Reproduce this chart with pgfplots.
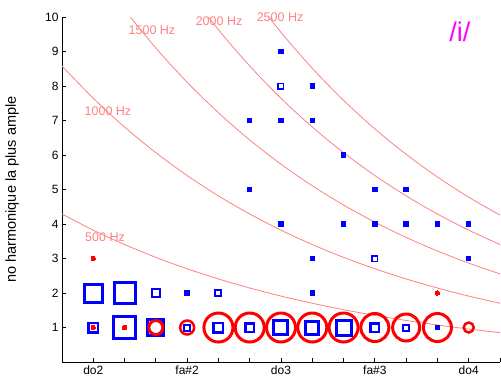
\documentclass[border=0pt]{standalone}
\usepackage{pgfplots}
\pgfplotsset{compat=1.18}
\usepackage{fontspec}
\setmainfont{Liberation Sans}
\definecolor{hz}{RGB}{255,128,128}
\definecolor{mag}{RGB}{255,0,255}
% one marker drawn by pgfplots at (x,y) with half-size and line width
\newcommand{\bsq}[4]{\addplot[only marks, mark=square, blue, mark size=#3pt, mark options={line width=#4pt, draw=blue, fill=none}] coordinates {(#1,#2)};}
\newcommand{\rci}[4]{\addplot[only marks, mark=o, red, mark size=#3pt, mark options={line width=#4pt, draw=red, fill=none}] coordinates {(#1,#2)};}

\begin{document}
\begin{tikzpicture}
\begin{axis}[
  scale only axis, width=438pt, height=345pt,
  xmin=-2, xmax=26, ymin=0, ymax=10,
  axis x line*=bottom, axis y line*=left,
  axis line style={black, line width=0.8pt},
  tick align=inside, major tick length=4.5pt,
  tick style={black, line width=0.8pt},
  xtick={0,2,...,26},
  xticklabels={do2,,,fa\#2,,,do3,,,fa\#3,,,do4,},
  ytick={1,...,10},
  tick label style={font=\fontsize{12}{14}\selectfont},
  /pgf/number format/assume math mode=true,
  ylabel={no harmonique la plus ample},
  every axis y label/.style={at={(axis description cs:-0.114,0.5)}, rotate=90, anchor=center, font=\fontsize{14.5}{16}\selectfont},
  clip mode=individual,
]
% harmonic iso-frequency curves
\addplot[hz, line width=0.8pt, smooth, no marks] coordinates {(-2,4.290) (0,3.822) (2,3.405) (4,3.034) (6,2.703) (8,2.408) (10,2.145) (12,1.911) (14,1.703) (16,1.517) (18,1.351) (20,1.204) (22,1.073) (24,0.956) (26,0.851)};
\addplot[hz, line width=0.8pt, smooth, no marks] coordinates {(-2,8.580) (0,7.645) (2,6.810) (4,6.068) (6,5.405) (8,4.816) (10,4.290) (12,3.822) (14,3.405) (16,3.034) (18,2.703) (20,2.408) (22,2.145) (24,1.911) (26,1.703)};
\addplot[hz, line width=0.8pt, smooth, no marks] coordinates {(-2,12.871) (0,11.467) (2,10.216) (4,9.101) (6,8.108) (8,7.224) (10,6.436) (12,5.734) (14,5.108) (16,4.551) (18,4.054) (20,3.612) (22,3.218) (24,2.867) (26,2.554)};
\addplot[hz, line width=0.8pt, smooth, no marks] coordinates {(-2,17.161) (0,15.289) (2,13.621) (4,12.135) (6,10.811) (8,9.632) (10,8.581) (12,7.645) (14,6.811) (16,6.068) (18,5.406) (20,4.816) (22,4.290) (24,3.822) (26,3.405)};
\addplot[hz, line width=0.8pt, smooth, no marks] coordinates {(2,17.027) (4,15.169) (6,13.514) (8,12.039) (10,10.726) (12,9.556) (14,8.513) (16,7.585) (18,6.757) (20,6.020) (22,5.363) (24,4.778) (26,4.257)};

% blue hollow squares (x, y, half side, line width)
\bsq{0}{2}{9}{3}
\bsq{2}{2}{10.5}{3}
\bsq{4}{2}{4}{2}
\bsq{0}{1}{4.75}{2.5}
\bsq{2}{1}{11}{3}
\bsq{4}{1}{8}{3}
\bsq{8}{2}{3}{2}
\bsq{6}{1}{3}{2}
\bsq{8}{1}{4.75}{2.5}
\bsq{10}{1}{4.25}{2.5}
\bsq{12}{1}{7}{3}
\bsq{14}{1}{6.5}{3}
\bsq{16}{1}{7.5}{3}
\bsq{18}{1}{4.25}{2.5}
\bsq{20}{1}{3}{2}
\bsq{12}{8}{2.75}{1.5}
\bsq{18}{3}{2.75}{1.5}
% blue small filled squares
\addplot[only marks, mark=square*, mark size=2.2pt, blue, mark options={line width=0pt, draw=blue, fill=blue}] coordinates {
(12,9) (10,7) (12,7) (14,7) (14,8) (10,5) (12,4) (14,3) (14,2)
(16,6) (18,5) (20,5) (16,4) (18,4) (20,4) (22,4) (24,4) (24,3) (22,1)};
\addplot[only marks, mark=square*, mark size=2.8pt, blue, mark options={line width=0pt, draw=blue, fill=blue}] coordinates {(6,2)};
% red circles (x, y, radius, line width)
\rci{4}{1}{7}{3}
\rci{6}{1}{7}{2.5}
\rci{8}{1}{14.5}{3}
\rci{10}{1}{14.5}{3}
\rci{12}{1}{14.5}{3}
\rci{14}{1}{14.5}{3}
\rci{16}{1}{14.5}{3}
\rci{18}{1}{14}{3}
\rci{20}{1}{13.5}{3}
\rci{22}{1}{14}{3}
\rci{24}{1}{5}{2.5}
% red dots
\addplot[only marks, mark=*, mark size=2.2pt, red, mark options={draw=red, fill=red, line width=0pt}] coordinates {(0,3) (0,1) (2,1) (22,2)};

% labels
\node[hz, font=\fontsize{12.5}{14}\selectfont] at (axis cs:0.75,3.62) {500 Hz};
\node[hz, font=\fontsize{12.5}{14}\selectfont] at (axis cs:0.94,7.28) {1000 Hz};
\node[hz, font=\fontsize{12.5}{14}\selectfont] at (axis cs:3.75,9.62) {1500 Hz};
\node[hz, font=\fontsize{12.5}{14}\selectfont] at (axis cs:8.04,9.89) {2000 Hz};
\node[hz, font=\fontsize{12.5}{14}\selectfont] at (axis cs:11.94,9.99) {2500 Hz};
\node[mag, font=\fontsize{27}{30}\selectfont] at (axis cs:23.44,9.57) {/i/};

\coordinate (bl) at (axis cs:-5.963,-0.522);
\coordinate (tr) at (axis cs:26.064,10.493);
\end{axis}
\pgfresetboundingbox
\path[use as bounding box] (bl) rectangle (tr);
\end{tikzpicture}
\end{document}
